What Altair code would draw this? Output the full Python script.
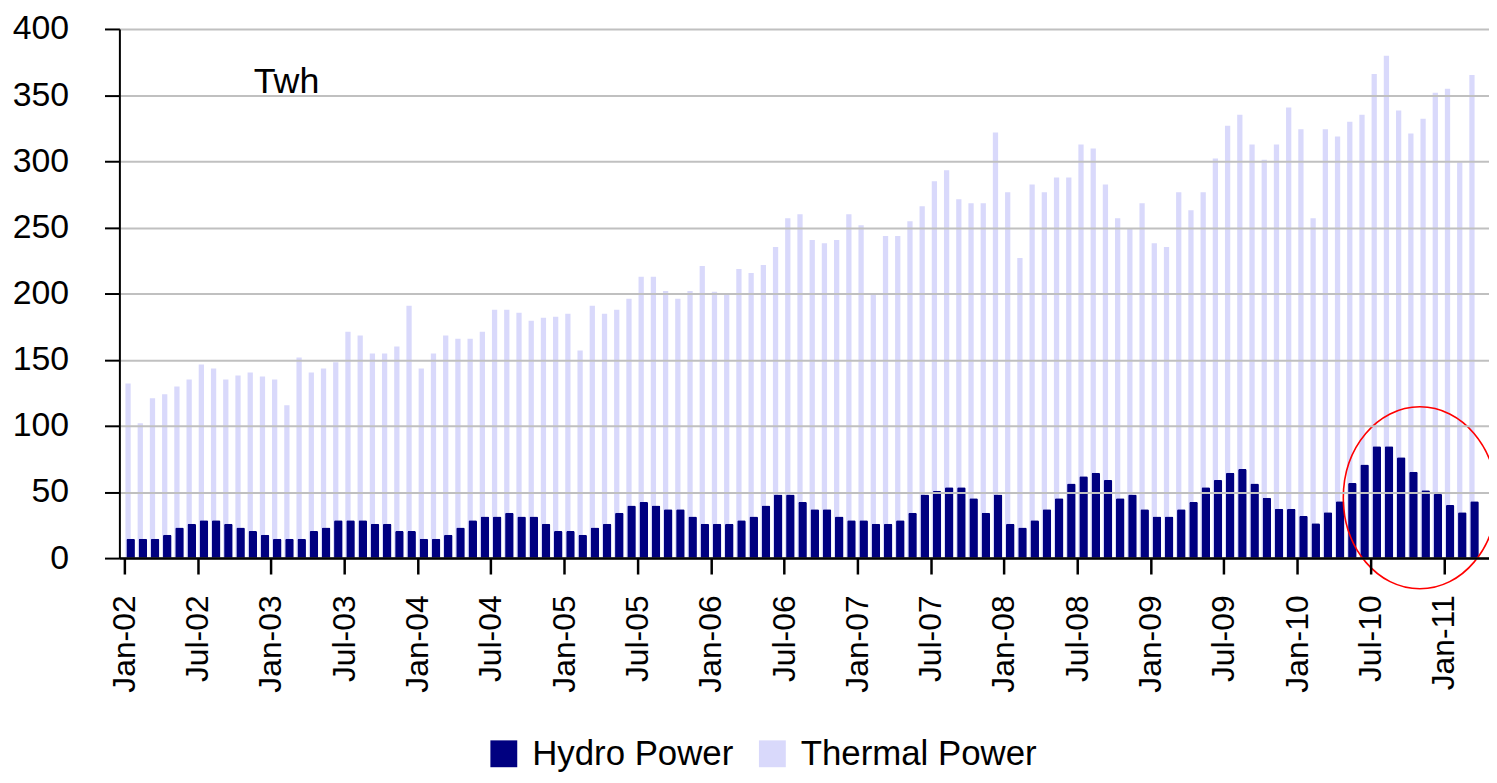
import json
import altair as alt
import pandas as pd

FONT = "Liberation Sans, Arial, sans-serif"

# Months Jan-02 .. Mar-11 (111 categories)
month_names = ["Jan", "Feb", "Mar", "Apr", "May", "Jun", "Jul", "Aug", "Sep", "Oct", "Nov", "Dec"]
months = [f"{m}-{y:02d}" for y in range(2, 12) for m in month_names][:111]

# Thermal power, TWh per month
thermal = [
    132.0, 102.0, 120.8, 123.8, 129.8, 135.1, 146.4, 143.4, 135.1, 138.1, 140.3, 137.3,   # 2002
    135.1, 115.5, 151.6, 140.3, 143.4, 148.1, 171.2, 168.2, 154.6, 154.6, 159.9, 190.8,   # 2003
    143.4, 154.6, 168.2, 165.9, 165.9, 171.2, 187.7, 187.7, 185.4, 179.4, 181.7, 182.5,   # 2004
    184.7, 156.9, 190.8, 184.7, 187.7, 196.0, 212.6, 212.6, 202.0, 196.0, 202.0, 220.8,   # 2005
    201.3, 199.0, 218.6, 215.6, 221.6, 235.1, 256.9, 259.9, 240.4, 238.1, 240.4, 259.9,   # 2006
    251.6, 199.0, 243.4, 243.4, 254.7, 266.0, 284.8, 293.1, 271.3, 268.3, 268.3, 321.7,   # 2007
    276.5, 226.8, 282.5, 276.5, 287.8, 287.8, 312.6, 309.6, 282.5, 256.9, 249.4, 268.3,   # 2008
    238.1, 235.1, 276.5, 263.0, 276.5, 302.1, 326.9, 335.2, 312.6, 301.2, 312.6, 340.6,   # 2009
    324.1, 257.0, 324.1, 318.7, 329.9, 335.2, 366.0, 379.7, 338.3, 321.0, 332.2, 351.7,   # 2010
    354.8, 299.2, 365.2,                                                                   # 2011
]

# Hydro power, TWh per month
hydro = [
    14.7, 14.7, 14.7, 17.7, 23.2, 26.0, 28.7, 28.7, 26.0, 23.2, 20.4, 17.7,   # 2002
    14.7, 14.7, 14.7, 20.4, 23.2, 28.7, 28.7, 28.7, 26.0, 26.0, 20.4, 20.4,   # 2003
    14.7, 14.7, 17.7, 23.2, 28.7, 31.5, 31.5, 34.2, 31.5, 31.5, 26.0, 20.4,   # 2004
    20.4, 17.7, 23.2, 26.0, 34.2, 39.7, 42.5, 39.7, 37.0, 37.0, 31.5, 26.0,   # 2005
    26.0, 26.0, 28.7, 31.5, 39.7, 48.0, 48.0, 42.5, 37.0, 37.0, 31.5, 28.7,   # 2006
    28.7, 26.0, 26.0, 28.7, 34.2, 48.0, 50.7, 53.5, 53.5, 45.3, 34.2, 48.0,   # 2007
    26.0, 23.2, 28.7, 37.0, 45.3, 56.3, 61.8, 64.6, 59.1, 45.3, 48.0, 37.0,   # 2008
    31.5, 31.5, 37.0, 42.5, 53.5, 59.1, 64.6, 67.3, 56.3, 45.7, 37.3, 37.3,   # 2009
    31.9, 26.4, 34.7, 42.9, 56.8, 70.8, 84.5, 84.5, 76.2, 65.2, 51.3, 48.5,   # 2010
    40.1, 34.7, 42.9,                                                         # 2011
]

series_names = ["Hydro Power", "Thermal Power"]
series_colors = ["#000080", "#D9D9FB"]

tick_values = list(range(0, 109, 6))
tick_labels = ["Jan-02", "Jul-02", "Jan-03", "Jul-03", "Jan-04", "Jul-04", "Jan-05", "Jul-05",
               "Jan-06", "Jul-06", "Jan-07", "Jul-07", "Jan-08", "Jul-08", "Jan-09", "Jul-09",
               "Jan-10", "Jul-10", "Jan-11"]
y_ticks = [0, 50, 100, 150, 200, 250, 300, 350, 400]

unit_label = ["Twh"]

# highlight ellipse (annotation) centred on Nov-10, ~46 TWh
highlight_x = [106.04]
highlight_y = [45.6]

rows = []
for i, m in enumerate(months):
    rows.append({"idx": i, "month": m, "series": "Thermal Power", "value": thermal[i]})
    rows.append({"idx": i, "month": m, "series": "Hydro Power", "value": hydro[i]})
df = pd.DataFrame(rows)

x_scale = alt.Scale(domain=[0, 111.29], nice=False, zero=False)
y_scale = alt.Scale(domain=[0, 400], nice=False)

label_expr = f"{json.dumps(tick_labels)}[round(datum.value / 6)]"

x_axis = alt.Axis(
    values=tick_values, labelExpr=label_expr, labelAngle=-90, labelAlign="right",
    labelBaseline="middle", labelPadding=21, labelFlush=False, labelOverlap=False,
    labelFontSize=32, labelFont=FONT, labelColor="black",
    tickSize=16, tickWidth=2.5, tickColor="black",
    domainColor="black", domainWidth=2.5, grid=False, title=None, zindex=1,
)
y_axis = alt.Axis(
    values=y_ticks, labelFontSize=34, labelFont=FONT, labelColor="black", labelPadding=36,
    labelFlush=False, tickSize=15, tickWidth=2, tickColor="black",
    domainColor="black", domainWidth=2, grid=True, gridColor="#C0C0C0", gridWidth=2,
    title=None, zindex=1,
)

color = alt.Color(
    "series:N",
    scale=alt.Scale(domain=series_names, range=series_colors),
    legend=alt.Legend(
        orient="none", legendX=369, legendY=711, direction="horizontal", title=None,
        symbolType="square", symbolSize=729, symbolStrokeWidth=0,
        labelFontSize=35, labelFont=FONT, labelColor="black", labelOffset=11,
        labelLimit=600, columnPadding=21,
    ),
)

base = alt.Chart(df)

thermal_bars = base.transform_filter(alt.datum.series == "Thermal Power").mark_bar(
    width=5.3, xOffset=3.7
).encode(
    x=alt.X("idx:Q", scale=x_scale, axis=x_axis),
    y=alt.Y("value:Q", scale=y_scale, axis=y_axis),
    color=color,
)

hydro_bars = base.transform_filter(alt.datum.series == "Hydro Power").mark_bar(
    width=8.6, xOffset=6.3, cornerRadiusTopLeft=1.5, cornerRadiusTopRight=1.5
).encode(
    x=alt.X("idx:Q", scale=x_scale),
    y=alt.Y("value:Q", scale=y_scale),
    color=color,
)

a, b, k = 77 / 91.5, 1.0, 0.5523
ellipse_path = (
    f"M {a} 0 C {a} {k*b} {k*a} {b} 0 {b} "
    f"C {-k*a} {b} {-a} {k*b} {-a} 0 "
    f"C {-a} {-k*b} {-k*a} {-b} 0 {-b} "
    f"C {k*a} {-b} {a} {-k*b} {a} 0 Z"
)
ellipse = alt.Chart(pd.DataFrame({"x": highlight_x, "y": highlight_y})).mark_point(
    shape=ellipse_path, size=183 * 183, filled=False, stroke="#FF0000",
    strokeWidth=1.6, opacity=1
).encode(
    x=alt.X("x:Q", scale=x_scale),
    y=alt.Y("y:Q", scale=y_scale),
)

unit_text = alt.Chart(pd.DataFrame({"label": unit_label})).mark_text(
    align="left", baseline="alphabetic", fontSize=36, font=FONT, color="black"
).encode(
    x=alt.value(135),
    y=alt.value(64),
    text="label:N",
)

chart = alt.layer(thermal_bars, hydro_bars, ellipse, unit_text).properties(
    width=1377,
    height=532,
    autosize=alt.AutoSizeParams(type="none"),
    padding={"left": 112, "top": 19, "right": 0, "bottom": 216},
).configure(font=FONT).configure_view(stroke=None)

chart.save("out.html", embed_options={"renderer": "svg", "actions": False})
